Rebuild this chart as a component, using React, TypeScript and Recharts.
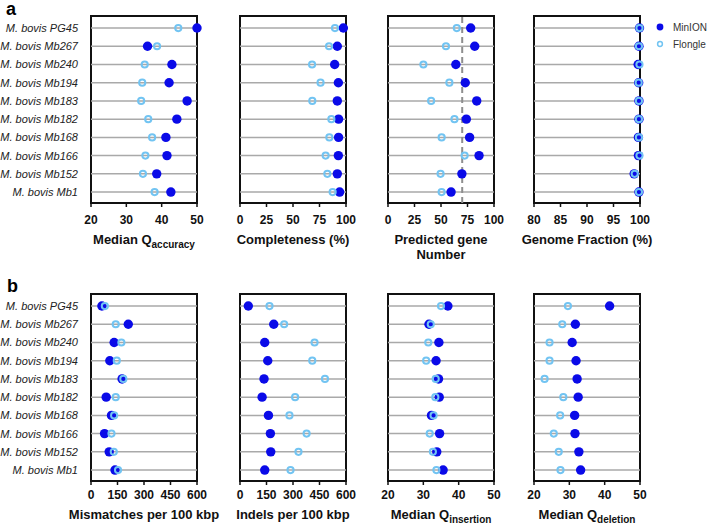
import { ScatterChart, Scatter, XAxis, YAxis, ReferenceLine, ReferenceArea } from "recharts"

const strains = [
 "M. bovis PG45",
 "M. bovis Mb267",
 "M. bovis Mb240",
 "M. bovis Mb194",
 "M. bovis Mb183",
 "M. bovis Mb182",
 "M. bovis Mb168",
 "M. bovis Mb166",
 "M. bovis Mb152",
 "M. bovis Mb1"
]

// panel a
const qAccMinion = [50.0, 36.0, 42.9, 42.1, 47.2, 44.3, 41.2, 41.5, 38.6, 42.6]
const qAccFlongle = [44.7, 38.7, 35.2, 34.5, 34.2, 36.2, 37.3, 35.4, 34.7, 38.0]
const complMinion = [97.5, 91.8, 89.3, 92.8, 91.8, 93.0, 93.0, 92.8, 91.8, 94.0]
const complFlongle = [89.6, 84.0, 68.0, 76.0, 68.2, 86.2, 84.3, 80.8, 82.4, 87.4]
const geneMinion = [78.0, 81.8, 64.0, 72.9, 83.7, 73.9, 77.0, 85.9, 69.7, 59.5]
const geneFlongle = [64.9, 54.7, 33.4, 57.9, 40.7, 62.7, 50.6, 72.3, 49.6, 50.6]
const gfMinion = [99.9, 99.8, 99.65, 99.75, 99.8, 99.8, 99.7, 99.7, 98.9, 99.8]
const gfFlongle = [99.9, 99.8, 99.9, 99.75, 99.8, 99.8, 99.8, 99.9, 99.0, 99.8]

// panel b
const mismMinion = [61.7, 211, 131, 106.5, 176, 86, 116, 76.6, 103, 136]
const mismFlongle = [78.5, 140, 172, 146, 183, 140, 131, 116, 129, 153]
const indelMinion = [47, 191, 140, 157, 136, 125, 161, 172, 174, 140]
const indelFlongle = [167, 250, 422, 409, 481, 312, 280, 377, 331, 286]
const qInsMinion = [36.95, 31.6, 34.4, 33.6, 34.3, 34.5, 32.3, 34.6, 33.8, 35.6]
const qInsFlongle = [35.0, 32.1, 31.4, 30.8, 33.5, 33.4, 32.9, 31.8, 32.7, 33.7]
const qDelMinion = [41.4, 31.7, 30.8, 31.9, 32.2, 32.5, 31.5, 31.6, 32.7, 33.2]
const qDelFlongle = [29.6, 28.0, 24.4, 24.4, 23.0, 28.3, 27.4, 25.6, 27.0, 27.5]

const qTicks = [20, 30, 40, 50]
const pctTicks = [0, 25, 50, 75, 100]
const gfTicks = [80, 85, 90, 95, 100]
const perKbpTicks = [0, 150, 300, 450, 600]
const geneCutoff = 70

const DARK = "#0a0ae8"
const LIGHT = "#72c4f2"
const PLOT_W = 106
const PLOT_H = 187
const NAMES_W = 91
const Y_DOMAIN = [-0.66, 9.6]

const toPoints = (vals: number[]) => vals.map((v, i) => ({ x: v, y: i }))

const MinionDot = (p: any) => <circle cx={p.cx} cy={p.cy} r={4.7} fill={DARK} />
const FlongleRing = (p: any) => (
 <circle cx={p.cx} cy={p.cy} r={3.1} fill="none" stroke={LIGHT} strokeWidth={2} />
)

const NameTick = (p: any) => (
 <text x={p.x} y={p.y} dy={4} textAnchor="end" fontSize={11} fontStyle="italic" fill="#222">
  {strains[p.payload.value]}
 </text>
)

function Panel(props: {
 left: number
 top: number
 minion: number[]
 flongle: number[]
 domain: number[]
 ticks: number[]
 names?: boolean
 cutoff?: number
 tickGap: number
}) {
 const { left, top, minion, flongle, domain, ticks, names, cutoff, tickGap } = props
 const padL = names ? 0 : 12
 const yW = names ? NAMES_W : 0
 const w = padL + yW + PLOT_W + 12
 const h = 4 + PLOT_H + 30

 return (
  <div style={{ position: "absolute", left: left - padL - yW, top: top - 4 }}>
   <ScatterChart width={w} height={h} margin={{ top: 4, right: 12, bottom: 0, left: padL }}>
    <XAxis
     type="number"
     dataKey="x"
     domain={domain}
     ticks={ticks}
     interval={0}
     axisLine={false}
     tickLine={{ stroke: "#111", strokeWidth: 1.5 }}
     tickSize={4}
     tickMargin={tickGap}
     height={30}
     tick={{ fill: "#111", fontSize: 12, fontWeight: "bold" }}
    />
    <YAxis
     type="number"
     dataKey="y"
     domain={Y_DOMAIN}
     reversed
     ticks={strains.map((_, i) => i)}
     interval={0}
     hide={!names}
     width={yW}
     axisLine={false}
     tickLine={false}
     tickSize={0}
     tickMargin={13}
     tick={NameTick}
    />
    {strains.map((_, i) => (
     <ReferenceLine key={i} y={i} stroke="#a9a9a9" strokeWidth={1.5} />
    ))}
    {cutoff !== undefined && (
     <ReferenceLine x={cutoff} stroke="#8e8e8e" strokeWidth={2} strokeDasharray="6 4" />
    )}
    <ReferenceArea
     x1={domain[0]}
     x2={domain[1]}
     y1={Y_DOMAIN[0]}
     y2={Y_DOMAIN[1]}
     fill="none"
     fillOpacity={0}
     stroke="#111"
     strokeWidth={2}
    />
    <Scatter data={toPoints(minion)} shape={MinionDot} isAnimationActive={false} />
    <Scatter data={toPoints(flongle)} shape={FlongleRing} isAnimationActive={false} />
   </ScatterChart>
  </div>
 )
}

function Title(props: { center: number; top: number; children: any }) {
 return (
  <div
   style={{
    position: "absolute",
    left: props.center - 90,
    top: props.top,
    width: 180,
    textAlign: "center",
    fontWeight: "bold",
    fontSize: 13,
    lineHeight: "15px",
    color: "#111"
   }}
  >
   {props.children}
  </div>
 )
}

const Sub = (props: { children: any }) => (
 <span style={{ fontSize: 10, position: "relative", top: 4 }}>{props.children}</span>
)

export default function App() {
 const lefts = [91, 240, 388, 534]
 const centers = lefts.map(l => l + PLOT_W / 2)
 const rowA = 16
 const rowB = 294

 return (
  <div
   style={{
    position: "absolute",
    left: 0,
    top: 0,
    width: 708,
    height: 528,
    background: "#fff",
    fontFamily: "'Liberation Sans', Arial, sans-serif"
   }}
  >
   <div style={{ position: "absolute", left: 6, top: 0, fontSize: 18, fontWeight: "bold", lineHeight: "18px" }}>a</div>
   <div style={{ position: "absolute", left: 7, top: 277, fontSize: 18, fontWeight: "bold", lineHeight: "18px" }}>b</div>

   {/* ROW A */}
   <Panel left={lefts[0]} top={rowA} minion={qAccMinion} flongle={qAccFlongle} domain={[20, 50]} ticks={qTicks} names tickGap={8} />
   <Panel left={lefts[1]} top={rowA} minion={complMinion} flongle={complFlongle} domain={[0, 100]} ticks={pctTicks} tickGap={8} />
   <Panel left={lefts[2]} top={rowA} minion={geneMinion} flongle={geneFlongle} domain={[0, 100]} ticks={pctTicks} cutoff={geneCutoff} tickGap={8} />
   <Panel left={lefts[3]} top={rowA} minion={gfMinion} flongle={gfFlongle} domain={[80, 100]} ticks={gfTicks} tickGap={8} />

   <Title center={centers[0]} top={232}>Median Q<Sub>accuracy</Sub></Title>
   <Title center={centers[1]} top={232}>Completeness (%)</Title>
   <Title center={centers[2]} top={232}>Predicted gene<br />Number</Title>
   <Title center={centers[3]} top={232}>Genome Fraction (%)</Title>

   {/* ROW B */}
   <Panel left={lefts[0]} top={rowB} minion={mismMinion} flongle={mismFlongle} domain={[0, 600]} ticks={perKbpTicks} names tickGap={5} />
   <Panel left={lefts[1]} top={rowB} minion={indelMinion} flongle={indelFlongle} domain={[0, 600]} ticks={perKbpTicks} tickGap={5} />
   <Panel left={lefts[2]} top={rowB} minion={qInsMinion} flongle={qInsFlongle} domain={[20, 50]} ticks={qTicks} tickGap={5} />
   <Panel left={lefts[3]} top={rowB} minion={qDelMinion} flongle={qDelFlongle} domain={[20, 50]} ticks={qTicks} tickGap={5} />

   <Title center={centers[0]} top={507}>Mismatches per 100 kbp</Title>
   <Title center={centers[1]} top={507}>Indels per 100 kbp</Title>
   <Title center={centers[2]} top={507}>Median Q<Sub>insertion</Sub></Title>
   <Title center={centers[3]} top={507}>Median Q<Sub>deletion</Sub></Title>

   {/* LEGEND */}
   <svg style={{ position: "absolute", left: 650, top: 15 }} width={58} height={40}>
    <circle cx={10} cy={12} r={3.4} fill={DARK} />
    <circle cx={10} cy={29} r={2.4} fill="none" stroke={LIGHT} strokeWidth={1.5} />
    <text x={23} y={15.5} fontSize={10} fill="#333">MinION</text>
    <text x={23} y={32.5} fontSize={10} fill="#333">Flongle</text>
   </svg>
  </div>
 )
}
